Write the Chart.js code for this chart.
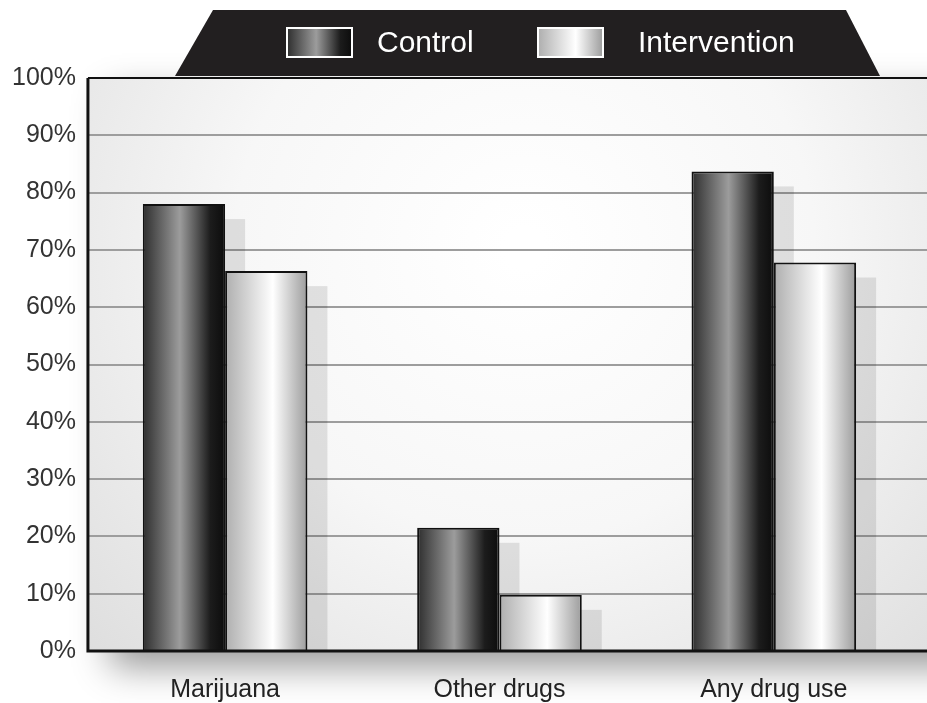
<!DOCTYPE html>
<html>
<head>
<meta charset="utf-8">
<script src="https://cdn.jsdelivr.net/npm/chart.js@4.4.1/dist/chart.umd.min.js"></script>
<style>
    body { margin: 0; background: #ffffff; }
    #wrap { width: 927px; height: 703px; position: relative; }
</style>
</head>
<body>
<div id="wrap"><canvas id="myChart"></canvas></div>
<script>
// chart data
const categories = ['Marijuana', 'Other drugs', 'Any drug use'];
const seriesNames = ['Control', 'Intervention'];
const controlValues = [78, 21.5, 83.7];
const interventionValues = [66.3, 9.8, 67.8];

const FONT = '"Liberation Sans", Arial, sans-serif';

// horizontal "cylinder" shading for each series
const shading = [
    [[0, '#2e2e2e'], [0.45, '#9c9c9c'], [0.82, '#1c1c1c'], [1, '#0c0c0c']],
    [[0, '#aeaeae'], [0.58, '#ffffff'], [1, '#9c9c9c']]
];

function makeGradient(ctx, x0, x1, stops) {
    let g = ctx.createLinearGradient(x0, 0, x1, 0);
    for (let i = 0; i < stops.length; i++) {
        g.addColorStop(stops[i][0], stops[i][1]);
    }
    return g;
}

const decorPlugin = {
    id: 'decor',
    beforeDraw(chart) {
        const ctx = chart.ctx;
        const a = chart.chartArea;
        // plot background with soft drop shadow
        ctx.save();
        ctx.shadowColor = 'rgba(0,0,0,0.4)';
        ctx.shadowBlur = 34;
        ctx.shadowOffsetX = 22;
        ctx.shadowOffsetY = 16;
        let cx = a.left + (chart.width - a.left) * 0.52;
        let bg = ctx.createRadialGradient(cx, a.top + 170, 20, cx, a.top + 170, 620);
        bg.addColorStop(0, '#ffffff');
        bg.addColorStop(0.45, '#f7f7f7');
        bg.addColorStop(1, '#dcdcdc');
        ctx.fillStyle = bg;
        ctx.fillRect(a.left, a.top, chart.width - a.left + 60, a.bottom - a.top);
        ctx.restore();
    },
    beforeDatasetsDraw(chart) {
        const ctx = chart.ctx;
        const a = chart.chartArea;
        const y = chart.scales.y;
        // grid lines run out to the canvas edge
        ctx.save();
        ctx.strokeStyle = '#9d9d9d';
        ctx.lineWidth = 2;
        y.ticks.forEach(t => {
            if (t.value <= 0 || t.value >= 100) return;
            let py = Math.round(y.getPixelForValue(t.value));
            ctx.beginPath();
            ctx.moveTo(a.left, py);
            ctx.lineTo(chart.width, py);
            ctx.stroke();
        });
        // bar shadows + gradient fills
        ctx.fillStyle = 'rgba(0,0,0,0.10)';
        chart.data.datasets.forEach((ds, di) => {
            let meta = chart.getDatasetMeta(di);
            meta.data.forEach(el => {
                let left = el.x - el.width / 2;
                let top = el.y + 15;
                ctx.fillRect(left + 20, top, el.width, el.base - top);
                let g = makeGradient(ctx, left, left + el.width, shading[di]);
                el.options = Object.assign({}, el.options, {backgroundColor: g});
            });
        });
        ctx.restore();
    },
    afterDatasetsDraw(chart) {
        const ctx = chart.ctx;
        const a = chart.chartArea;
        ctx.save();
        ctx.strokeStyle = '#111111';
        ctx.lineWidth = 2;
        ctx.beginPath();
        ctx.moveTo(a.left, a.top);
        ctx.lineTo(chart.width, a.top);
        ctx.stroke();
        ctx.lineWidth = 3;
        ctx.beginPath();
        ctx.moveTo(a.left, a.top);
        ctx.lineTo(a.left, a.bottom);
        ctx.lineTo(chart.width, a.bottom);
        ctx.stroke();
        ctx.restore();
    },
    afterDraw(chart) {
        const ctx = chart.ctx;
        ctx.save();
        // black trapezoid legend panel
        ctx.fillStyle = '#221f20';
        ctx.beginPath();
        ctx.moveTo(213, 10);
        ctx.lineTo(846, 10);
        ctx.lineTo(880, 76);
        ctx.lineTo(175, 76);
        ctx.closePath();
        ctx.fill();
        const swatchX = [287, 538];
        const textX = [377, 638];
        ctx.font = '30px ' + FONT;
        ctx.textBaseline = 'middle';
        for (let i = 0; i < seriesNames.length; i++) {
            let x = swatchX[i];
            ctx.fillStyle = makeGradient(ctx, x, x + 65, shading[i]);
            ctx.fillRect(x, 28, 65, 29);
            ctx.strokeStyle = '#ffffff';
            ctx.lineWidth = 2;
            ctx.strokeRect(x, 28, 65, 29);
            ctx.fillStyle = '#ffffff';
            ctx.fillText(chart.data.datasets[i].label, textX[i], 44);
        }
        ctx.restore();
    }
};

const ctx = document.getElementById('myChart');
const myChart = new Chart(ctx, {
    type: 'bar',
    data: {
        labels: categories,
        datasets: [
            {
                label: seriesNames[0],
                data: controlValues,
                backgroundColor: (c) => '#666666',
                borderColor: '#111111',
                borderWidth: 2
            },
            {
                label: seriesNames[1],
                data: interventionValues,
                backgroundColor: (c) => '#dddddd',
                borderColor: '#111111',
                borderWidth: 2
            }
        ]
    },
    options: {
        responsive: true,
        maintainAspectRatio: false,
        animation: false,
        events: [],
        layout: {
            padding: {top: 78, left: 0, right: 16, bottom: -26}
        },
        datasets: {
            bar: {
                barPercentage: 1,
                categoryPercentage: 0.6
            }
        },
        plugins: {
            legend: {display: false},
            title: {display: false},
            tooltip: {enabled: false}
        },
        scales: {
            x: {
                grid: {display: false, drawTicks: false},
                border: {display: false},
                ticks: {
                    padding: 24,
                    color: '#222222',
                    font: {family: FONT, size: 25}
                }
            },
            y: {
                min: 0,
                max: 100,
                grid: {display: false, drawTicks: false},
                border: {display: false},
                ticks: {
                    stepSize: 10,
                    padding: 12,
                    color: '#333333',
                    font: {family: FONT, size: 25},
                    callback: (v) => v + '%'
                }
            }
        }
    },
    plugins: [decorPlugin]
});
</script>
</body>
</html>
